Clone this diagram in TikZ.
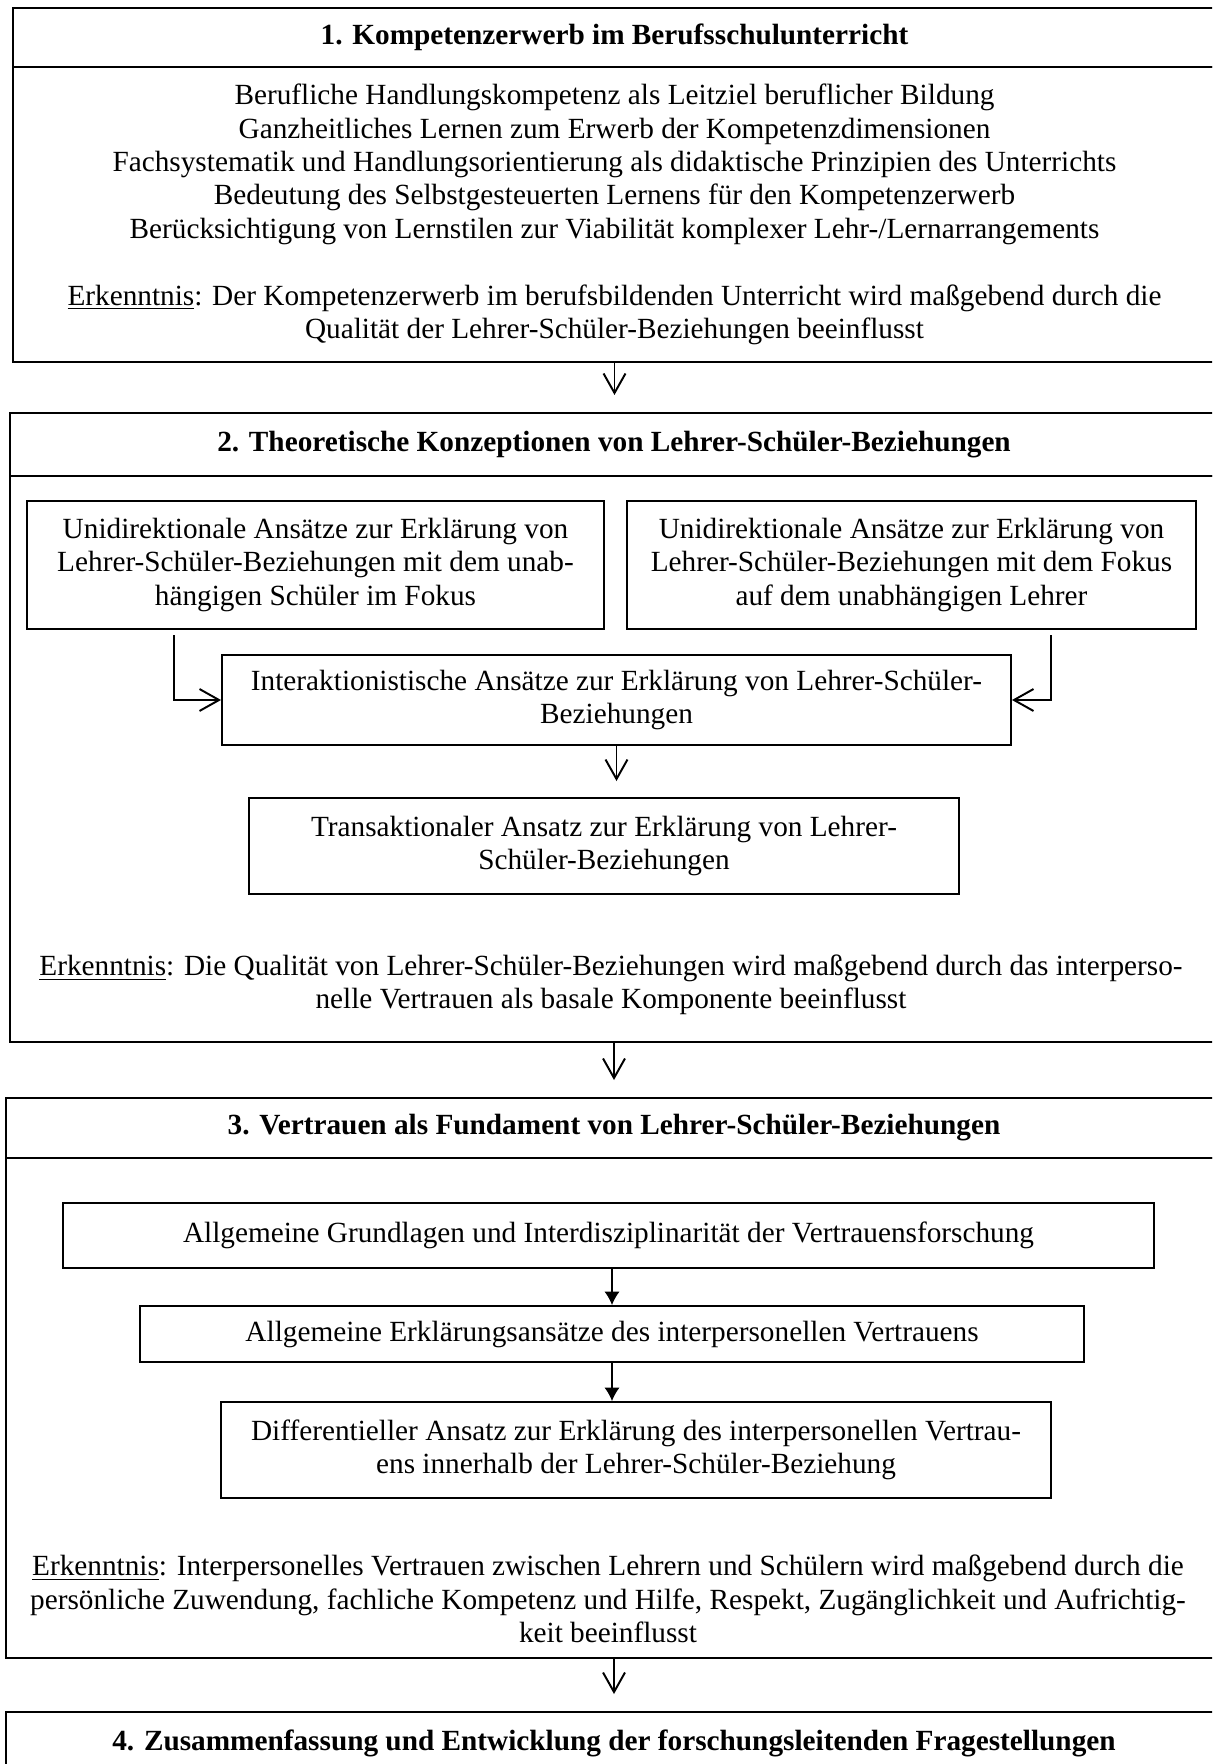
\documentclass[tikz,border=0pt]{standalone}
\usepackage{fontspec}
\setmainfont{Liberation Serif}
\usetikzlibrary{arrows.meta,positioning}
\def\figpx{0.41pt}
\def\figfont{\fontsize{12pt}{13.7pt}\selectfont}
\def\figgap{18*\figpx}

\begin{document}
\begin{tikzpicture}[
  x=\figpx,y=-\figpx,
  node distance=0pt,
  every node/.style={font=\figfont},
  part/.style={draw,line width=0.8pt,outer sep=0pt,inner sep=0pt,align=center},
  title/.style={part,font=\figfont\bfseries},
  box/.style={draw,line width=0.8pt,inner sep=0pt,align=center},
  flow/.style={line width=0.8pt,-{Straight Barb[length=8pt,width=9pt]}},
  link/.style={line width=0.5pt,-{Latex[length=5.5pt,width=6.2pt]}},
]
\useasboundingbox (0,0) rectangle (1212,1764);
\clip (0,0) rectangle (1212,1764);

%%%%%%%%%%%%%%%
% Part 1
%%%%%%%%%%%%%%%
\node (t1) [title,minimum width={1203*\figpx},minimum height={59*\figpx}] at (614.5,37.5)
  {1. Kompetenzerwerb im Berufsschulunterricht};
\node (c1) [part,minimum width={1203*\figpx},minimum height={295*\figpx},below=of t1] {%
  Berufliche Handlungskompetenz als Leitziel beruflicher Bildung\\
  Ganzheitliches Lernen zum Erwerb der Kompetenzdimensionen\\
  Fachsystematik und Handlungsorientierung als didaktische Prinzipien des Unterrichts\\
  Bedeutung des Selbstgesteuerten Lernens für den Kompetenzerwerb\\
  Berücksichtigung von Lernstilen zur Viabilität komplexer Lehr-/Lernarrangements\\[13.7pt]
  \underline{Erkenntnis}: Der Kompetenzerwerb im berufsbildenden Unterricht wird maßgebend durch die\\
  Qualität der Lehrer-Schüler-Beziehungen beeinflusst};

%%%%%%%%%%%%%%%
% Part 2
%%%%%%%%%%%%%%%
\node (t2) [title,minimum width={1208*\figpx},minimum height={63*\figpx}] at (614,444.5)
  {2. Theoretische Konzeptionen von Lehrer-Schüler-Beziehungen};
\node (c2) [part,minimum width={1208*\figpx},minimum height={566*\figpx},below=of t2] {};

\node (s2l) [box,minimum width={577*\figpx},minimum height={128*\figpx}] at (315.5,565)
  {Unidirektionale Ansätze zur Erklärung von\\Lehrer-Schüler-Beziehungen mit dem unab-\\hängigen Schüler im Fokus};
\node (s2r) [box,minimum width={569*\figpx},minimum height={128*\figpx}] at (911.5,565)
  {Unidirektionale Ansätze zur Erklärung von\\Lehrer-Schüler-Beziehungen mit dem Fokus\\auf dem unabhängigen Lehrer};
\node (s2i) [box,minimum width={789*\figpx},minimum height={90*\figpx}] at (616.5,700)
  {Interaktionistische Ansätze zur Erklärung von Lehrer-Schüler-\\Beziehungen};
\node (s2t) [box,minimum width={710*\figpx},minimum height={96*\figpx}] at (604,846)
  {Transaktionaler Ansatz zur Erklärung von Lehrer-\\Schüler-Beziehungen};
\node (e2) [align=center,inner sep=0pt] at (611,985)
  {\underline{Erkenntnis}: Die Qualität von Lehrer-Schüler-Beziehungen wird maßgebend durch das interperso-\\
   nelle Vertrauen als basale Komponente beeinflusst};

\coordinate (s2lend) at (174,635);
\coordinate (s2rend) at (1051,635);
\draw [flow] (s2lend) |- (s2i.west);
\draw [flow] (s2rend) |- (s2i.east);
\draw [flow,shorten >={16*\figpx}] (s2i.south) -- (s2i.south |- s2t.north);

%%%%%%%%%%%%%%%
% Part 3
%%%%%%%%%%%%%%%
\node (t3) [title,minimum width={1216*\figpx},minimum height={60*\figpx}] at (614,1128)
  {3. Vertrauen als Fundament von Lehrer-Schüler-Beziehungen};
\node (c3) [part,minimum width={1216*\figpx},minimum height={500*\figpx},below=of t3] {};

\node (s3a) [box,minimum width={1091*\figpx},minimum height={65*\figpx}] at (608.5,1235.5)
  {Allgemeine Grundlagen und Interdisziplinarität der Vertrauensforschung};
\node (s3b) [box,minimum width={944*\figpx},minimum height={56*\figpx}] at (612,1334)
  {Allgemeine Erklärungsansätze des interpersonellen Vertrauens};
\node (s3c) [box,minimum width={830*\figpx},minimum height={96*\figpx}] at (636,1450)
  {Differentieller Ansatz zur Erklärung des interpersonellen Vertrau-\\ens innerhalb der Lehrer-Schüler-Beziehung};
\node (e3) [align=center,inner sep=0pt] at (608,1599)
  {\underline{Erkenntnis}: Interpersonelles Vertrauen zwischen Lehrern und Schülern wird maßgebend durch die\\
   persönliche Zuwendung, fachliche Kompetenz und Hilfe, Respekt, Zugänglichkeit und Aufrichtig-\\
   keit beeinflusst};

\draw [link] (s3b.north |- s3a.south) -- (s3b.north);
\draw [link] (s3b.south) -- (s3b.south |- s3c.north);

%%%%%%%%%%%%%%%
% Part 4
%%%%%%%%%%%%%%%
\node (t4) [title,minimum width={1216*\figpx},minimum height={62*\figpx}] at (614,1743)
  {4. Zusammenfassung und Entwicklung der forschungsleitenden Fragestellungen};

%%%%%%%%%%%%%%%
% Flow between parts
\draw [flow,shorten >=\figgap] (c1.south) -- (c1.south |- t2.north);
\draw [flow,shorten >=\figgap] (c2.south) -- (c2.south |- t3.north);
\draw [flow,shorten >=\figgap] (c3.south) -- (c3.south |- t4.north);

\end{tikzpicture}
\end{document}
